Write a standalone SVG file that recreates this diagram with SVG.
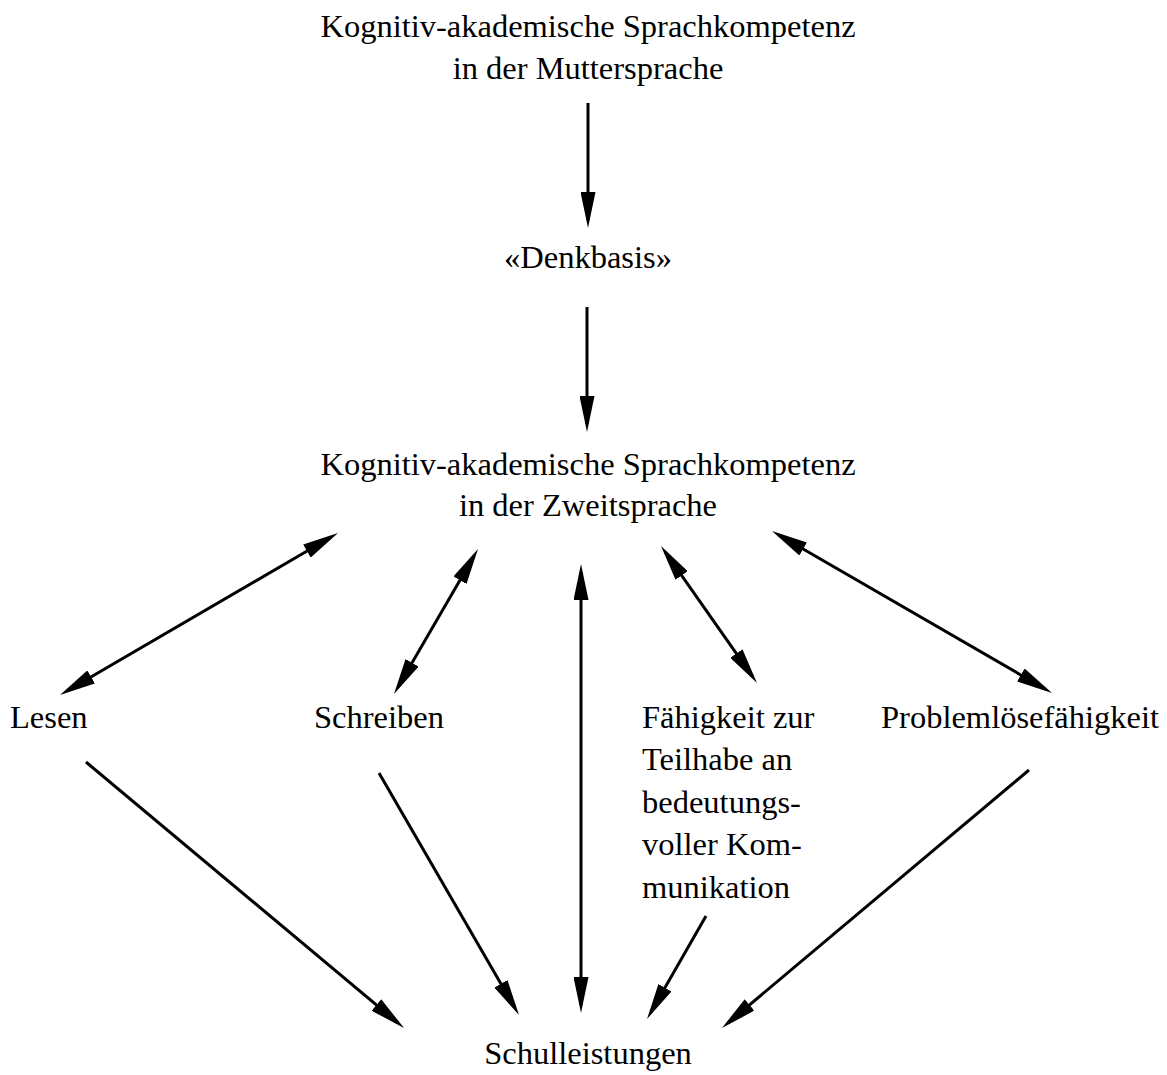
<svg xmlns="http://www.w3.org/2000/svg" width="1167" height="1075" viewBox="0 0 1167 1075">
<style>
  text { font-family: "Liberation Serif", "Times New Roman", serif; font-size: 32.5px; fill: #000; }
  .c { text-anchor: middle; }
  .conn line { stroke: #000; stroke-width: 3; fill: none; }
  .one { marker-end: url(#ah); }
  .two { marker-start: url(#ah); marker-end: url(#ah); }
</style>
<defs>
  <marker id="ah" viewBox="0 0 36 15" markerWidth="36" markerHeight="15" refX="28" refY="7.5" orient="auto-start-reverse" markerUnits="userSpaceOnUse">
    <path d="M0,0 L36,7.5 L0,15 z" fill="#000"/>
  </marker>
</defs>
<rect x="0" y="0" width="1167" height="1075" fill="#fff"/>

<g id="mutter">
  <text class="c" x="588" y="37">Kognitiv-akademische Sprachkompetenz</text>
  <text class="c" x="588" y="79">in der Muttersprache</text>
</g>
<g id="denkbasis">
  <text class="c" x="588" y="268">«Denkbasis»</text>
</g>
<g id="zweit">
  <text class="c" x="588" y="475">Kognitiv-akademische Sprachkompetenz</text>
  <text class="c" x="588" y="516">in der Zweitsprache</text>
</g>
<g id="lesen">
  <text x="10" y="728">Lesen</text>
</g>
<g id="schreiben">
  <text x="314" y="728">Schreiben</text>
</g>
<g id="teilhabe">
  <text x="642" y="728">Fähigkeit zur</text>
  <text x="642" y="770">Teilhabe an</text>
  <text x="642" y="813">bedeutungs-</text>
  <text x="642" y="855">voller Kom-</text>
  <text x="642" y="898">munikation</text>
</g>
<g id="problem">
  <text x="881" y="728">Problemlösefähigkeit</text>
</g>
<g id="schul">
  <text class="c" x="588" y="1064">Schulleistungen</text>
</g>

<g id="connectors" class="conn">
  <line class="one" x1="588" y1="103" x2="588" y2="220"/>
  <line class="one" x1="587" y1="307" x2="587" y2="424"/>
  <line class="two" x1="331.1" y1="537" x2="66.9" y2="691"/>
  <line class="two" x1="474" y1="555.9" x2="398" y2="687.1"/>
  <line class="two" x1="581" y1="572" x2="581" y2="1005"/>
  <line class="two" x1="665.6" y1="552.6" x2="752.4" y2="676.4"/>
  <line class="two" x1="778.9" y1="535" x2="1045.1" y2="689"/>
  <line class="one" x1="86" y1="762" x2="397.9" y2="1022.9"/>
  <line class="one" x1="379" y1="773" x2="515" y2="1008.1"/>
  <line class="one" x1="706" y1="916" x2="651" y2="1012.1"/>
  <line class="one" x1="1029" y1="770" x2="728.1" y2="1022.9"/>
</g>
</svg>
